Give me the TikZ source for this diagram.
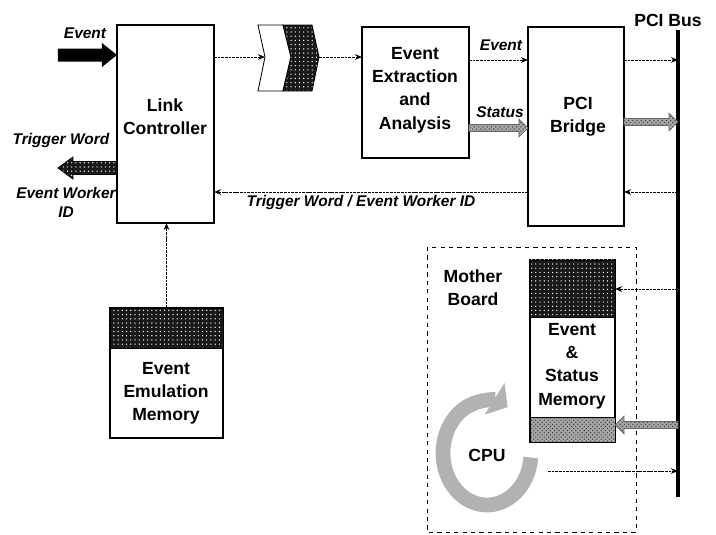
\documentclass[tikz,border=0pt]{standalone}
\usepackage{fontspec}
\setmainfont{Liberation Sans}
\usetikzlibrary{arrows.meta}
\usetikzlibrary{calc}
\usetikzlibrary{patterns}

\tikzset{
  box/.style={draw, line width=0.8pt, inner sep=0pt, outer sep=0pt},
  boxtext/.style={font=\fontsize{12.5}{16.5}\selectfont\bfseries, align=center},
  lbl/.style={font=\fontsize{11}{13.5}\selectfont\bfseries\itshape, align=center},
  conn/.style={-{Stealth[length=5pt,width=4pt]}, line width=0.7pt, dash pattern=on 2pt off 0.6pt},
  hatch/.style={draw=black!60, line width=0.4pt, preaction={fill=black!35}, pattern=crosshatch dots, pattern color=black!80},
  dark/.style={draw, line width=0.6pt, preaction={fill=black!90}, pattern=dots, pattern color=white},
}

\begin{document}
\begin{tikzpicture}[x=0.025cm, y=-0.025cm]
            \useasboundingbox (0,0) rectangle (716,534);

            % boxes
            \node[box, minimum width=2.425cm, minimum height=4.95cm] (lc) at (165.5,124) {};
            \node[boxtext] (lctext) at (165,117) {Link\\Controller};

            \node[box, minimum width=2.675cm, minimum height=3.275cm] (eea) at (415.5,92.5) {};
            \node[boxtext] (eeatext) at (415,90) {Event\\Extraction\\and\\Analysis};

            \node[box, minimum width=2.4cm, minimum height=4.975cm] (pcib) at (576,126.5) {};
            \node[boxtext] (pcibtext) at (578,117) {PCI\\Bridge};

            \node[box, minimum width=2.825cm, minimum height=3.25cm] (eem) at (166.5,373) {};
            \draw[dark] (eem.north west) rectangle ++(113,40);
            \node[boxtext] (eemtext) at (166,393) {Event\\Emulation\\Memory};

            % mother board
            \draw[dashed, line width=0.6pt] (427,247) rectangle (636,532);
            \node[boxtext] (mbtext) at (473,288) {Mother\\Board};

            \node[box, minimum width=2.125cm, minimum height=4.55cm] (esm) at (572.5,351) {};
            \draw[dark] (esm.north west) rectangle ++(85,57);
            \draw[hatch, draw=black, line width=0.6pt] (esm.south west) rectangle ++(85,-25);
            \node[boxtext] (esmtext) at (572,366) {Event\\\&\\Status\\Memory};

            % chevron
            \draw[line width=0.6pt] (258,25) -- (283,25) -- (291,57) -- (283,91) -- (258,91) -- (265,57) -- cycle;
            \draw[dark] (283,25) -- (312,25) -- (319,57) -- (312,91) -- (283,91) -- (291,57) -- cycle;
            \coordinate (chvin) at (265,57);
            \coordinate (chvout) at (319,57);

            % pci bus
            \coordinate (bustop) at (678,30);
            \coordinate (busbot) at (678,497);
            \draw[line width=3.4pt] (bustop) -- (busbot);
            \node[boxtext] (bustext) at (668,20) {PCI Bus};

            % cpu
            \node[boxtext] (cpu) at (487,455) {CPU};
            \draw[line width=10.5pt, black!30, -{Triangle[length=11pt,width=26pt]}]
                (487,453) ++(5:44 and 52) arc[start angle=5, end angle=298, x radius=44, y radius=52];

            % row heights
            \coordinate (evin) at (0,55);
            \coordinate (evy) at (0,60);
            \coordinate (sty) at (0,128);
            \coordinate (busst) at (0,122);
            \coordinate (twin) at (0,168);
            \coordinate (twy) at (0,192);
            \coordinate (memy) at (0,289);
            \coordinate (memst) at (0,425);
            \coordinate (cpuout) at (548,471);

            % fat arrows
            \fill[black] (lc.west |- evin) -- ++(-15,-12) -- ++(0,5.5) -- ++(-44,0) -- ++(0,13) -- ++(44,0) -- ++(0,5.5) -- cycle;
            \node[lbl] (evinlbl) at (85,33) {Event};

            \draw[dark] (lc.west |- twin) ++(0,-6.5) -- ++(-44,0) -- ++(0,-4.5) -- ++(-15,11) -- ++(15,11) -- ++(0,-4.5) -- ++(44,0) -- cycle;
            \node[lbl] (twlbl) at (61,140) {Trigger Word};
            \node[lbl] (ewlbl) at (66,202) {Event Worker\\ID};

            \draw[hatch] (pcib.west |- sty) -- ++(-9,-9) -- ++(0,5.5) -- ++(-50,0) -- ++(0,7) -- ++(50,0) -- ++(0,5.5) -- cycle;
            \node[lbl] (stlbl) at (500,112) {Status};

            \draw[hatch] (bustop |- busst) -- ++(-9,-9) -- ++(0,5.5) -- ++(-45,0) -- ++(0,7) -- ++(45,0) -- ++(0,5.5) -- cycle;

            \draw[hatch] (esm.east |- memst) -- ++(9,-9) -- ++(0,5.5) -- ++(54,0) -- ++(0,7) -- ++(-54,0) -- ++(0,5.5) -- cycle;

            % connectors
            \draw[conn] (lc.east |- chvin) -- (chvin);
            \draw[conn] (chvout) -- (eea.west |- chvout);
            \draw[conn] (eea.east |- evy) -- (pcib.west |- evy);
            \node[lbl] (evlbl) at (501,45) {Event};
            \draw[conn] (pcib.east |- evy) -- (bustop |- evy);

            \draw[conn] (bustop |- twy) -- (pcib.east |- twy);
            \draw[conn] (pcib.west |- twy) -- (lc.east |- twy);
            \node[lbl] (twidlbl) at (361,202) {Trigger Word / Event Worker ID};

            \draw[conn] (eem.north) -- (eem.north |- lc.south);

            \draw[conn] (bustop |- memy) -- (esm.east |- memy);
            \draw[conn] (cpuout) -- (bustop |- cpuout);
        \end{tikzpicture}
\end{document}
